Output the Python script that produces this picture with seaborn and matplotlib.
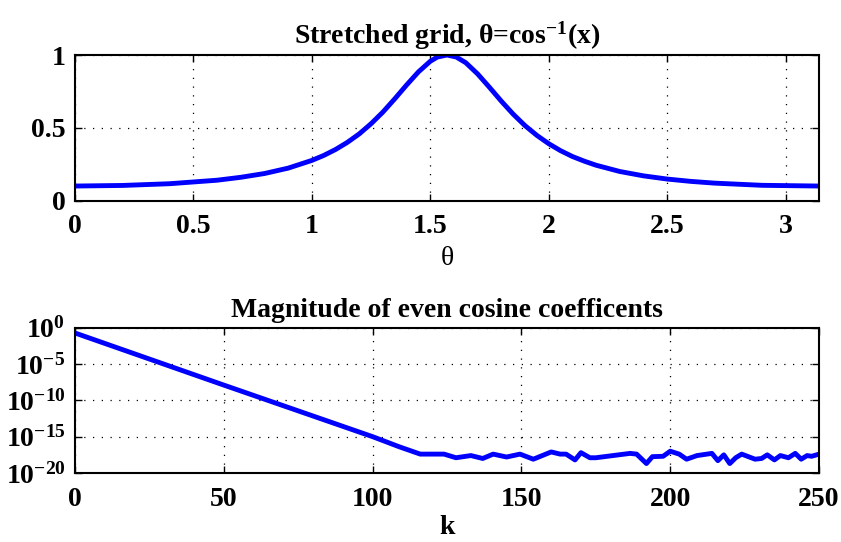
import numpy as np
import pandas as pd
import matplotlib
matplotlib.use("Agg")
import matplotlib.pyplot as plt
import seaborn as sns
from matplotlib.ticker import FixedLocator, LogFormatterMathtext, NullLocator

# ---- data ----
theta = [0.0, 0.2, 0.4, 0.6, 0.7, 0.8, 0.9, 1.0, 1.05, 1.1, 1.15, 1.2, 1.25, 1.3,
         1.35, 1.4, 1.45, 1.5, 1.53, 1.5708, 1.61, 1.65, 1.7, 1.75, 1.8, 1.85,
         1.9, 1.95, 2.0, 2.05, 2.1, 2.15, 2.2, 2.3, 2.4, 2.5, 2.6, 2.7, 2.9, 3.1416]
f_theta = [0.100, 0.104, 0.116, 0.140, 0.160, 0.186, 0.223, 0.276, 0.310, 0.351,
           0.400, 0.458, 0.528, 0.608, 0.699, 0.794, 0.884, 0.957, 0.986, 1.000,
           0.986, 0.947, 0.870, 0.778, 0.683, 0.594, 0.515, 0.448, 0.391, 0.343,
           0.303, 0.271, 0.243, 0.200, 0.170, 0.148, 0.132, 0.120, 0.105, 0.100]

k_vals = [0, 50, 100, 109, 116, 124, 128, 133, 137, 140.5, 145, 149.5, 154, 157,
          160, 163, 165, 168, 170, 173, 175, 186.5, 188.7, 192, 194, 197.6, 200,
          203, 205.5, 209, 214, 216, 218, 220, 222, 224, 228.5, 230.7, 232.6, 235,
          237, 239.7, 242, 244, 246, 247.5, 250]
log10_mag = [-0.73, -7.9, -15.0, -16.4, -17.4, -17.4, -17.9, -17.6, -18.0, -17.4,
             -17.8, -17.4, -18.1, -17.6, -17.1, -17.4, -17.4, -18.2, -17.2, -17.9,
             -17.9, -17.3, -17.4, -18.7, -17.75, -17.7, -17.0, -17.4, -18.1, -17.6,
             -17.3, -18.3, -17.5, -18.7, -17.9, -17.4, -18.1, -18.0, -17.5, -18.2,
             -17.6, -17.9, -17.3, -18.1, -17.6, -17.7, -17.4]

top_xticks = [0, 0.5, 1, 1.5, 2, 2.5, 3]
top_yticks = [0, 0.5, 1]
bot_xticks = [0, 50, 100, 150, 200, 250]
bot_yticks = [1e-20, 1e-15, 1e-10, 1e-5, 1e0]

df_top = pd.DataFrame({"theta": theta, "f": f_theta})
df_bot = pd.DataFrame({"k": k_vals, "mag": [10.0 ** v for v in log10_mag]})

sns.set_style("ticks")
plt.rcParams.update({
    "font.family": ["Liberation Serif", "DejaVu Serif"],
    "font.weight": "bold",
    "mathtext.fontset": "custom",
    "mathtext.rm": "Liberation Serif:bold",
    "mathtext.it": "Liberation Serif:bold",
    "mathtext.bf": "Liberation Serif:bold",
    "axes.linewidth": 1.5,
    "axes.edgecolor": "black",
    "text.color": "black",
    "axes.labelcolor": "black",
    "xtick.color": "black",
    "ytick.color": "black",
})

fig = plt.figure(figsize=(8.41, 5.42), dpi=100)
ax1 = fig.add_axes([0.0892, 0.6299, 0.8847, 0.2686])
ax2 = fig.add_axes([0.0892, 0.1273, 0.8847, 0.2681])

FS = 20
grid_kw = dict(color="black", linestyle=(0, (1, 6)), linewidth=0.9)

sns.lineplot(data=df_top, x="theta", y="f", ax=ax1, color=(0, 0, 1),
             linewidth=3.5, sort=False)
ax1.set_xlim(0, np.pi)
ax1.set_ylim(0, 1)
ax1.set_xticks(top_xticks)
ax1.set_xticklabels(["0", "0.5", "1", "1.5", "2", "2.5", "3"])
ax1.set_yticks(top_yticks)
ax1.set_yticklabels(["0", "0.5", "1"])
ax1.set_xlabel("θ", fontsize=FS, fontweight="normal", labelpad=5)
ax1.set_ylabel("")
ax1.set_title("Stretched grid, θ=cos$^{\\mathbf{-1}}$(x)", fontsize=FS,
              fontweight="bold", pad=8)

sns.lineplot(data=df_bot, x="k", y="mag", ax=ax2, color=(0, 0, 1),
             linewidth=3.5, sort=False)
ax2.set_yscale("log")
ax2.set_xlim(0, 250)
ax2.set_ylim(1e-20, 1e0)
ax2.set_xticks(bot_xticks)
ax2.yaxis.set_major_locator(FixedLocator(bot_yticks))
ax2.yaxis.set_major_formatter(LogFormatterMathtext())
ax2.yaxis.set_minor_locator(NullLocator())
ax2.set_xlabel("k", fontsize=FS, fontweight="bold", labelpad=2)
ax2.set_ylabel("")
ax2.set_title("Magnitude of even cosine coefficents", fontsize=FS,
              fontweight="bold", pad=8)

for ax in (ax1, ax2):
    ax.grid(True, **grid_kw)
    ax.tick_params(direction="in", top=True, right=True, length=5, width=1,
                   labelsize=FS, pad=7)
    ax.tick_params(axis="x", pad=10)
    for lab in ax.get_xticklabels() + ax.get_yticklabels():
        lab.set_fontweight("bold")
    for s in ax.spines.values():
        s.set_visible(True)
        s.set_color("black")

fig.savefig("out.png", dpi=100)
